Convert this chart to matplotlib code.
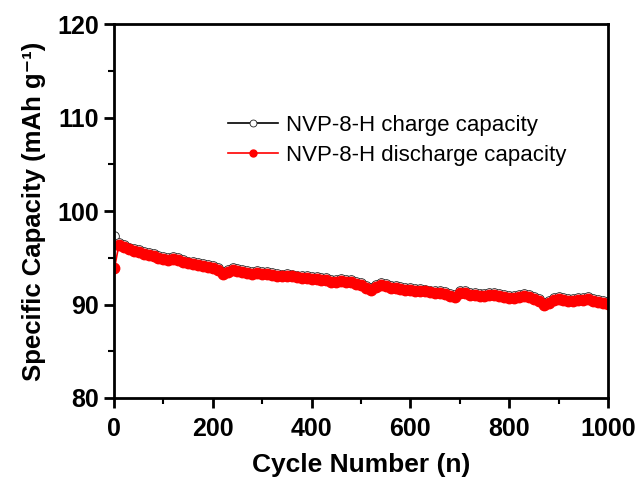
import numpy as np
import matplotlib
matplotlib.use("Agg")
from matplotlib import pyplot as plt
from matplotlib.ticker import MultipleLocator

# cycle numbers (sampled every 10 cycles)
cycles = [1] + list(range(10, 1001, 10))

discharge = [93.9, 96.4, 96.2, 95.9, 95.7, 95.6, 95.4, 95.3, 95.2, 95.0,
             94.9, 94.8, 94.9, 94.8, 94.6, 94.4, 94.3, 94.2, 94.1, 94.0,
             93.9, 93.7, 93.3, 93.5, 93.7, 93.6, 93.5, 93.4, 93.3, 93.4,
             93.3, 93.3, 93.2, 93.1, 93.0, 93.1, 93.0, 92.9, 92.8, 92.8,
             92.7, 92.7, 92.6, 92.6, 92.4, 92.4, 92.5, 92.4, 92.4, 92.2,
             92.1, 91.8, 91.6, 91.9, 92.1, 92.0, 91.8, 91.8, 91.7, 91.6,
             91.6, 91.5, 91.5, 91.4, 91.3, 91.2, 91.2, 91.1, 90.9, 90.8,
             91.2, 91.2, 91.0, 91.0, 90.9, 90.9, 91.0, 91.0, 90.9, 90.8,
             90.7, 90.7, 90.8, 90.9, 90.8, 90.6, 90.4, 90.0, 90.2, 90.5,
             90.6, 90.5, 90.4, 90.4, 90.5, 90.5, 90.6, 90.4, 90.3, 90.2,
             90.1]

charge = [97.3, 96.6, 96.4, 96.1, 95.9, 95.8, 95.6, 95.5, 95.4, 95.2,
          95.1, 95.0, 95.1, 95.0, 94.8, 94.6, 94.5, 94.4, 94.3, 94.2,
          94.1, 93.9, 93.5, 93.7, 93.9, 93.8, 93.7, 93.6, 93.5, 93.6,
          93.5, 93.5, 93.4, 93.3, 93.2, 93.3, 93.2, 93.1, 93.0, 93.0,
          92.9, 92.9, 92.8, 92.8, 92.6, 92.6, 92.7, 92.6, 92.6, 92.4,
          92.3, 92.0, 91.8, 92.1, 92.3, 92.2, 92.0, 92.0, 91.9, 91.8,
          91.8, 91.7, 91.7, 91.6, 91.5, 91.4, 91.4, 91.3, 91.1, 91.0,
          91.4, 91.4, 91.2, 91.2, 91.1, 91.1, 91.2, 91.2, 91.1, 91.0,
          90.9, 90.9, 91.0, 91.1, 91.0, 90.8, 90.6, 90.2, 90.4, 90.7,
          90.8, 90.7, 90.6, 90.6, 90.7, 90.7, 90.8, 90.6, 90.5, 90.4,
          90.3]

plt.rcParams['font.family'] = ['Liberation Sans', 'DejaVu Sans']

fig = plt.figure(figsize=(6.44, 4.83), dpi=100)
ax = fig.add_axes([0.177, 0.176, 0.767, 0.774])

ax.plot(cycles, charge, color='black', lw=1.2, marker='o', ms=7,
        mfc='white', mec='#222222', mew=0.6, label='NVP-8-H charge capacity')
ax.plot(cycles, discharge, color='red', lw=1.2, marker='o', ms=7.5,
        mfc='red', mec='red', label='NVP-8-H discharge capacity')

ax.set_xlim(0, 1000)
ax.set_ylim(80, 120)
ax.xaxis.set_major_locator(MultipleLocator(200))
ax.xaxis.set_minor_locator(MultipleLocator(100))
ax.yaxis.set_major_locator(MultipleLocator(10))
ax.yaxis.set_minor_locator(MultipleLocator(5))
ax.tick_params(which='major', direction='out', length=7, width=2,
               labelsize=18, top=False, right=False)
ax.tick_params(axis='x', which='major', pad=7)
ax.tick_params(axis='y', which='major', pad=4)
ax.tick_params(which='minor', direction='out', length=4, width=1.5,
               top=False, right=False)
for lab in ax.get_xticklabels() + ax.get_yticklabels():
    lab.set_fontweight('bold')
for s in ax.spines.values():
    s.set_linewidth(2)

ax.set_xlabel('Cycle Number (n)', fontsize=19, fontweight='bold', labelpad=8)
ax.set_ylabel('Specific Capacity (mAh g\u207b\u00b9)', fontsize=18.5,
              fontweight='bold', labelpad=8)

leg = ax.legend(loc='upper left', bbox_to_anchor=(0.23, 0.757), frameon=False,
                fontsize=16, handlelength=2.25, handletextpad=0.4,
                labelspacing=0.4, borderaxespad=0, borderpad=0)
for h in leg.legend_handles:
    h.set_markersize(5)

fig.savefig('out.png', dpi=100)
